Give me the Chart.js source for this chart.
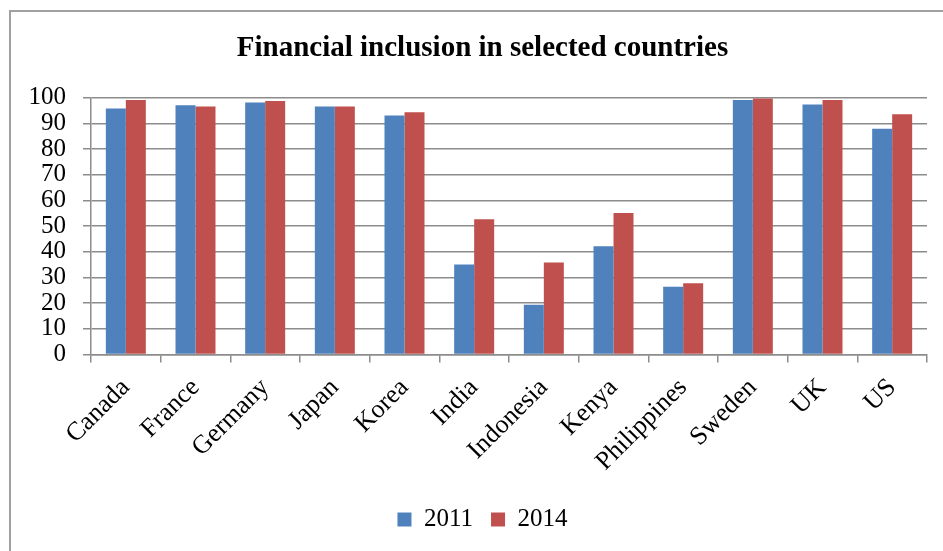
<!DOCTYPE html>
<html>
<head>
<meta charset="utf-8">
<script src="https://cdn.jsdelivr.net/npm/chart.js@4/dist/chart.umd.min.js"></script>
<style>
  html, body { margin: 0; padding: 0; background: #fff; }
  #frame { position: absolute; left: 9px; top: 10px; width: 960px; height: 560px;
           border-left: 2px solid #a0a0a0; border-top: 2px solid #a0a0a0; box-sizing: border-box; }
  #wrap { position: absolute; left: 0; top: 0; width: 943px; height: 551px; }
</style>
</head>
<body>
<div id="frame"></div>
<div id="wrap"><canvas id="c" width="943" height="551"></canvas></div>
<script>
const categories = ["Canada", "France", "Germany", "Japan", "Korea", "India", "Indonesia", "Kenya", "Philippines", "Sweden", "UK", "US"];
const values2011 = [95.8, 97.1, 98.2, 96.6, 93.1, 35.1, 19.4, 42.2, 26.4, 99.1, 97.4, 87.9];
const values2014 = [99.1, 96.6, 98.8, 96.6, 94.4, 52.7, 35.8, 55.1, 27.8, 99.7, 99.1, 93.6];
const yTicks = [0, 10, 20, 30, 40, 50, 60, 70, 80, 90, 100];

const SERIF = "'Liberation Serif', 'Times New Roman', serif";
const GRID = '#8c8c8c';

// shift title and legend boxes so they centre like the reference (axis area starts at x=0)
const shiftBlocks = {
  id: 'shiftBlocks',
  afterLayout(chart) {
    if (chart.titleBlock) chart.titleBlock.left += 38;
    if (chart.legend) chart.legend.left += 38;
  }
};

new Chart(document.getElementById('c'), {
  type: 'bar',
  data: {
    labels: categories,
    datasets: [
      { label: '2011', data: values2011, backgroundColor: '#4F81BD', borderWidth: 0,
        categoryPercentage: 0.574, barPercentage: 1.0 },
      { label: '2014', data: values2014, backgroundColor: '#C0504D', borderWidth: 0,
        categoryPercentage: 0.574, barPercentage: 1.0 }
    ]
  },
  plugins: [shiftBlocks],
  options: {
    responsive: false,
    animation: false,
    devicePixelRatio: 1,
    layout: { padding: { left: 0, right: 16, top: 0, bottom: 9 } },
    plugins: {
      title: {
        display: true,
        text: 'Financial inclusion in selected countries',
        color: '#000',
        font: { family: SERIF, size: 29, weight: 'bold', lineHeight: 1.2 },
        padding: { top: 31, bottom: 32 }
      },
      legend: {
        position: 'bottom',
        labels: {
          color: '#000',
          font: { family: SERIF, size: 25 },
          boxWidth: 14, boxHeight: 14, padding: 18
        }
      },
      tooltip: { enabled: false }
    },
    scales: {
      x: {
        offset: true,
        grid: { drawOnChartArea: false, drawTicks: true, tickLength: 8, color: GRID, lineWidth: 1.5, offset: true },
        border: { color: GRID, width: 1.5 },
        ticks: { color: '#000', font: { family: SERIF, size: 26 }, minRotation: 45, maxRotation: 45, padding: 10, autoSkip: false },
        afterFit: (s) => { s.height = 134.5; }
      },
      y: {
        min: 0, max: 100,
        afterBuildTicks: (s) => { s.ticks = yTicks.map(v => ({ value: v })); },
        grid: { color: GRID, lineWidth: 1.5, tickLength: 8 },
        border: { color: GRID, width: 1.5 },
        ticks: { color: '#000', font: { family: SERIF, size: 25 }, padding: 17, autoSkip: false },
        afterFit: (s) => { s.width = 91; }
      }
    }
  }
});
</script>
</body>
</html>
